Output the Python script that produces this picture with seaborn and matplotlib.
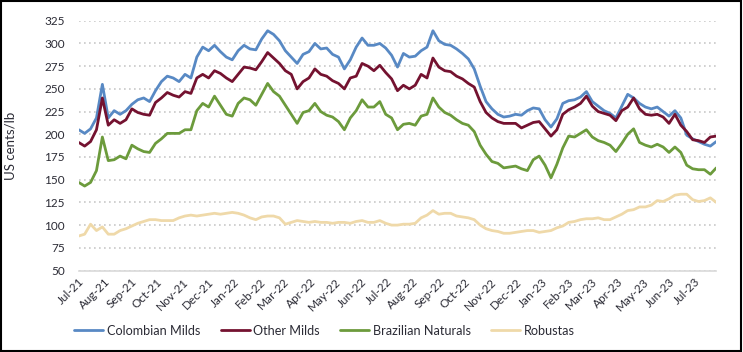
import pandas as pd
import numpy as np
import matplotlib
matplotlib.use('Agg')
import matplotlib.pyplot as plt
import matplotlib.dates as mdates
from matplotlib.patches import Rectangle
import seaborn as sns

# weekly readings, first week of Jul-21 to end of Jul-23 (US cents/lb)
start_date = '2021-07-01'
colombian = [205, 201, 206, 218, 255, 218, 226, 222, 226, 233, 238, 240, 236, 248, 258, 264, 262, 258, 266,
             262, 285, 296, 292, 298, 291, 285, 282, 292, 298, 294, 293, 305, 314, 310, 303, 292, 285,
             278, 288, 291, 300, 294, 295, 288, 285, 272, 282, 296, 306, 298, 298, 300, 295, 287, 274, 289,
             285, 286, 292, 296, 314, 303, 299, 298, 294, 289, 283, 272, 253, 236, 228, 222, 219, 220,
             222, 221, 226, 229, 228, 216, 208, 217, 234, 237, 238, 241, 247, 236, 231, 226, 223, 218, 231,
             244, 240, 234, 230, 228, 230, 225, 220, 226, 218, 199, 195, 192, 189, 187, 192]
other_milds = [191, 187, 192, 205, 240, 210, 216, 212, 216, 228, 224, 222, 221, 235, 240, 246, 243, 241, 247,
               245, 262, 266, 262, 270, 267, 262, 258, 266, 274, 273, 271, 280, 290, 284, 278, 270, 266,
               250, 258, 262, 272, 266, 264, 259, 256, 250, 262, 264, 278, 275, 270, 276, 268, 261, 248, 254,
               250, 254, 266, 262, 284, 274, 270, 269, 264, 261, 256, 252, 236, 224, 218, 214, 212, 212,
               212, 207, 210, 213, 214, 206, 198, 205, 222, 227, 230, 234, 242, 231, 225, 223, 221, 215, 226,
               230, 240, 228, 222, 221, 222, 219, 212, 222, 210, 203, 194, 193, 191, 197, 198]
brazilian = [147, 143, 147, 160, 197, 171, 172, 176, 173, 188, 184, 181, 180, 190, 195, 201, 201, 201, 205,
             205, 226, 234, 230, 242, 232, 222, 220, 234, 240, 238, 232, 244, 256, 247, 242, 232, 222,
             212, 224, 226, 234, 225, 221, 219, 214, 205, 218, 226, 238, 230, 230, 236, 222, 218, 205, 211,
             212, 210, 220, 222, 240, 230, 224, 221, 216, 212, 210, 203, 188, 178, 170, 168, 163, 164,
             165, 162, 160, 172, 176, 166, 152, 167, 185, 198, 197, 201, 205, 197, 193, 191, 188, 181, 190,
             200, 206, 191, 188, 186, 189, 186, 180, 186, 180, 166, 162, 161, 161, 156, 163]
robustas = [88, 90, 101, 94, 98, 90, 90, 94, 96, 99, 102, 104, 106, 106, 105, 105, 105, 108, 110,
            111, 110, 111, 112, 113, 112, 113, 114, 113, 111, 108, 106, 109, 110, 110, 108, 101, 103,
            105, 104, 103, 104, 103, 103, 102, 103, 103, 102, 104, 105, 103, 103, 105, 102, 100, 100, 101,
            101, 102, 108, 111, 116, 112, 113, 113, 110, 109, 108, 106, 100, 96, 94, 93, 91, 91,
            92, 93, 94, 94, 92, 93, 94, 97, 99, 103, 104, 106, 107, 107, 108, 106, 106, 109, 112,
            116, 117, 120, 120, 122, 127, 126, 129, 133, 134, 134, 128, 126, 127, 130, 125]

series_names = ['Colombian Milds', 'Other Milds', 'Brazilian Naturals', 'Robustas']
series_colors = ['#5889C4', '#741230', '#6C9B3C', '#EFD9A9']
y_ticks = [50, 75, 100, 125, 150, 175, 200, 225, 250, 275, 300, 325]

sns.set_theme(style='white')
plt.rcParams['font.family'] = ['Lato', 'DejaVu Sans']
text_color = '#2b2b35'

dates = pd.date_range(start_date, periods=len(colombian), freq='7D')
df = pd.DataFrame({'date': dates, 'Colombian Milds': colombian, 'Other Milds': other_milds,
                   'Brazilian Naturals': brazilian, 'Robustas': robustas})
long_df = df.melt(id_vars='date', var_name='series', value_name='price')

fig = plt.figure(figsize=(7.43, 3.52), dpi=100)
ax = fig.add_axes([0.106, 0.2315, 0.858, 0.7095])

sns.lineplot(data=long_df, x='date', y='price', hue='series', hue_order=series_names,
             palette=series_colors, linewidth=2.0, ax=ax, legend=False)

ax.set_xlim(dates[0], dates[-1])
ax.set_ylim(50, 325)
ax.set_yticks(y_ticks)
ax.xaxis.set_major_locator(mdates.MonthLocator())
ax.xaxis.set_major_formatter(mdates.DateFormatter('%b-%y'))
for lab in ax.get_xticklabels():
    lab.set_rotation(45)
    lab.set_ha('right')
    lab.set_rotation_mode('anchor')
ax.tick_params(axis='both', length=0, labelsize=8.5, colors=text_color)
ax.tick_params(axis='x', pad=4)
ax.tick_params(axis='y', pad=10)
ax.set_xlabel('')
ax.set_ylabel('US cents/lb', fontsize=9.5, color=text_color, labelpad=20)

ax.yaxis.grid(True, color='#c8c8c8', linestyle=(0, (1, 2)), linewidth=1.2)
ax.xaxis.grid(False)
for s in ['top', 'right', 'left']:
    ax.spines[s].set_visible(False)
ax.spines['bottom'].set_color('#d9d9d9')
ax.spines['bottom'].set_linewidth(1.2)

handles = [plt.Line2D([], [], color=c, lw=2.0) for c in series_colors]
fig.legend(handles, series_names, loc='center left', bbox_to_anchor=(0.093, 0.06), ncol=4,
           frameon=False, fontsize=9.1, handlelength=2.3, handletextpad=0.3, columnspacing=1.6,
           labelcolor=text_color, borderaxespad=0)

fig.patches.append(Rectangle((0.001, 0.002), 0.996, 0.995, transform=fig.transFigure,
                             fill=False, edgecolor='black', linewidth=1.5))

fig.savefig('out.png', dpi=100)
